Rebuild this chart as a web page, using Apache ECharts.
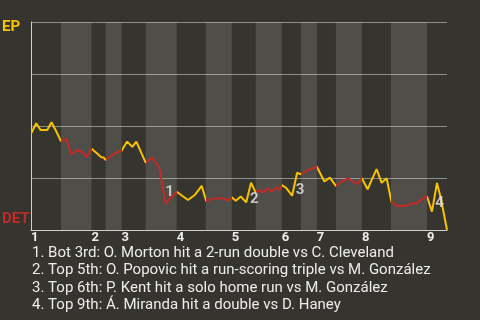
<!DOCTYPE html>
<html>
<head>
<meta charset="utf-8">
<script src="https://cdn.jsdelivr.net/npm/echarts@6/dist/echarts.min.js"></script>
<style>
html,body{margin:0;padding:0;background:#36342f;}
#chart{width:480px;height:320px;}
</style>
</head>
<body>
<div id="chart"></div>
<script>
// Game progress (% of plays) and EP win probability (%)
const playX = [0, 1.25, 2.29, 3.90, 4.93, 6.06, 7.22, 8.47, 9.68, 11.26, 12.47, 13.43, 14.56,
  15.76, 16.90, 17.45, 17.93, 19.69, 20.89, 21.78, 22.33, 23.10, 24.36, 25.32, 27.56,
  29.17, 30.81, 32.37, 35.02, 37.74, 39.35, 41.03, 42.12, 43.44, 44.89, 46.09, 47.29, 48.26,
  49.22, 50.42, 51.74, 52.90, 54.03, 54.92, 55.72, 56.92, 57.88, 58.92, 59.74, 60.29,
  61.32, 62.77, 63.97, 64.86, 66.55, 67.75, 68.71, 70.52, 71.84, 73.29, 74.66, 76.25,
  77.45, 78.51, 79.54, 80.91, 81.88, 83.08, 84.28, 85.49, 86.64, 87.89, 89.10, 90.30,
  91.34, 92.71, 93.91, 95.19, 96.39, 97.59, 98.56, 100];
const epWinPct = [46.2, 51.3, 48.1, 48.1, 51.8, 47.5, 42.6, 43.9, 36.5, 38.5, 37.2, 35.1, 39.1,
  37.0, 35.0, 34.9, 33.7, 36.2, 37.5, 38.1, 40.0, 42.5, 40.0, 42.5, 32.4,
  34.8, 30.3, 12.8, 18.4, 14.4, 16.8, 21.2, 13.9, 14.9, 15.4, 15.2, 14.1, 15.7,
  14.1, 16.1, 13.3, 22.7, 18.0, 19.2, 18.1, 20.0, 18.4, 20.5, 19.2, 21.6,
  20.3, 16.5, 27.5, 26.8, 28.8, 29.7, 30.4, 23.3, 25.2, 21.2, 23.2, 24.9,
  23.2, 22.1, 24.9, 19.6, 24.0, 29.3, 22.7, 24.9, 13.6, 11.5, 11.5, 11.5,
  12.8, 12.8, 14.8, 16.1, 8.8, 22.6, 14.9, 0];
// Half-inning boundaries (same progress scale)
const halfInningEdges = [0, 7.22, 14.56, 17.93, 21.78, 27.56, 35.02, 42.00, 48.26, 54.03,
  60.29, 64.86, 68.71, 73.29, 79.54, 86.52, 95.19, 100];
const inningLabels = ['1', '2', '3', '4', '5', '6', '7', '8', '9'];
const yTicks = [0, 25, 50, 75, 100];
// Annotations
const noteNums = ['1', '2', '3', '4'];
const noteX = [33.3, 53.7, 64.7, 98.2];
const noteY = [18.1, 14.9, 18.9, 13.1];
const footnotes = [
  '1. Bot 3rd: O. Morton hit a 2-run double vs C. Cleveland',
  '2. Top 5th: O. Popovic hit a run-scoring triple vs M. González',
  '3. Top 6th: P. Kent hit a solo home run vs M. González',
  '4. Top 9th: Á. Miranda hit a double vs D. Haney'
];
const teamTop = 'EP', teamBottom = 'DET';

const YELLOW = '#f7c300', RED = '#c22a26';

const lineData = playX.map((x, i) => [x, epWinPct[i]]);
const pieces = [];
const bands = [];
for (let i = 0; i < halfInningEdges.length - 1; i++) {
  const isBottom = i % 2 === 1;
  pieces.push({ gte: halfInningEdges[i], lt: halfInningEdges[i + 1] + (i === halfInningEdges.length - 2 ? 1 : 0), color: isBottom ? RED : YELLOW });
  if (isBottom) bands.push([{ xAxis: halfInningEdges[i] }, { xAxis: halfInningEdges[i + 1] }]);
}
const inningStarts = halfInningEdges.filter((_, i) => i % 2 === 0 && i < halfInningEdges.length - 1);

const chart = echarts.init(document.getElementById('chart'), null, { renderer: 'canvas' });
chart.setOption({
  backgroundColor: '#36342f',
  animation: false,
  grid: { left: 31, right: 33, top: 22, bottom: 90 },
  xAxis: {
    type: 'value', min: 0, max: 100,
    axisLine: { show: true, lineStyle: { color: '#cfcfcf', width: 1 } },
    axisTick: { show: false },
    splitLine: { show: false },
    axisLabel: {
      customValues: inningStarts,
      formatter: v => { const k = inningStarts.findIndex(s => Math.abs(s - v) < 0.01); return k >= 0 ? inningLabels[k] : ''; },
      color: '#ececec', fontFamily: 'Roboto', fontWeight: 'bold', fontSize: 13,
      align: 'left', margin: 1, hideOverlap: false
    }
  },
  yAxis: {
    type: 'value', min: 0, max: 100, interval: 25,
    axisLine: { show: true, lineStyle: { color: '#cfcfcf', width: 1 } },
    axisTick: { show: false },
    axisLabel: { show: false },
    splitLine: { show: true, lineStyle: { color: '#8c8c8c', width: 1 } }
  },
  visualMap: { type: 'piecewise', show: false, dimension: 0, seriesIndex: 0, pieces: pieces },
  series: [
    {
      type: 'line', data: lineData, symbol: 'none', z: 5,
      lineStyle: { width: 2 }
    },
    {
      type: 'line', data: [], z: 1,
      markArea: { silent: true, itemStyle: { color: 'rgba(255,255,255,0.13)' }, data: bands }
    },
    {
      type: 'scatter', z: 6, symbolSize: 0,
      data: noteNums.map((n, i) => ({ value: [noteX[i], noteY[i]], name: n })),
      label: { show: true, position: 'inside', formatter: p => p.name, color: '#e6e6e6',
        fontFamily: 'Roboto', fontWeight: 'bold', fontSize: 15 }
    }
  ],
  graphic: [
    { type: 'text', left: 2, top: 20, style: { text: teamTop, fill: YELLOW, font: 'bold 15px Roboto' } },
    { type: 'text', left: 2, top: 212, style: { text: teamBottom, fill: RED, font: 'bold 15px Roboto' } },
    { type: 'text', left: 32, top: 244, style: { text: footnotes.join('\n'), fill: '#ececec', font: '15px Roboto', lineHeight: 17.6 } }
  ]
});
</script>
</body>
</html>
